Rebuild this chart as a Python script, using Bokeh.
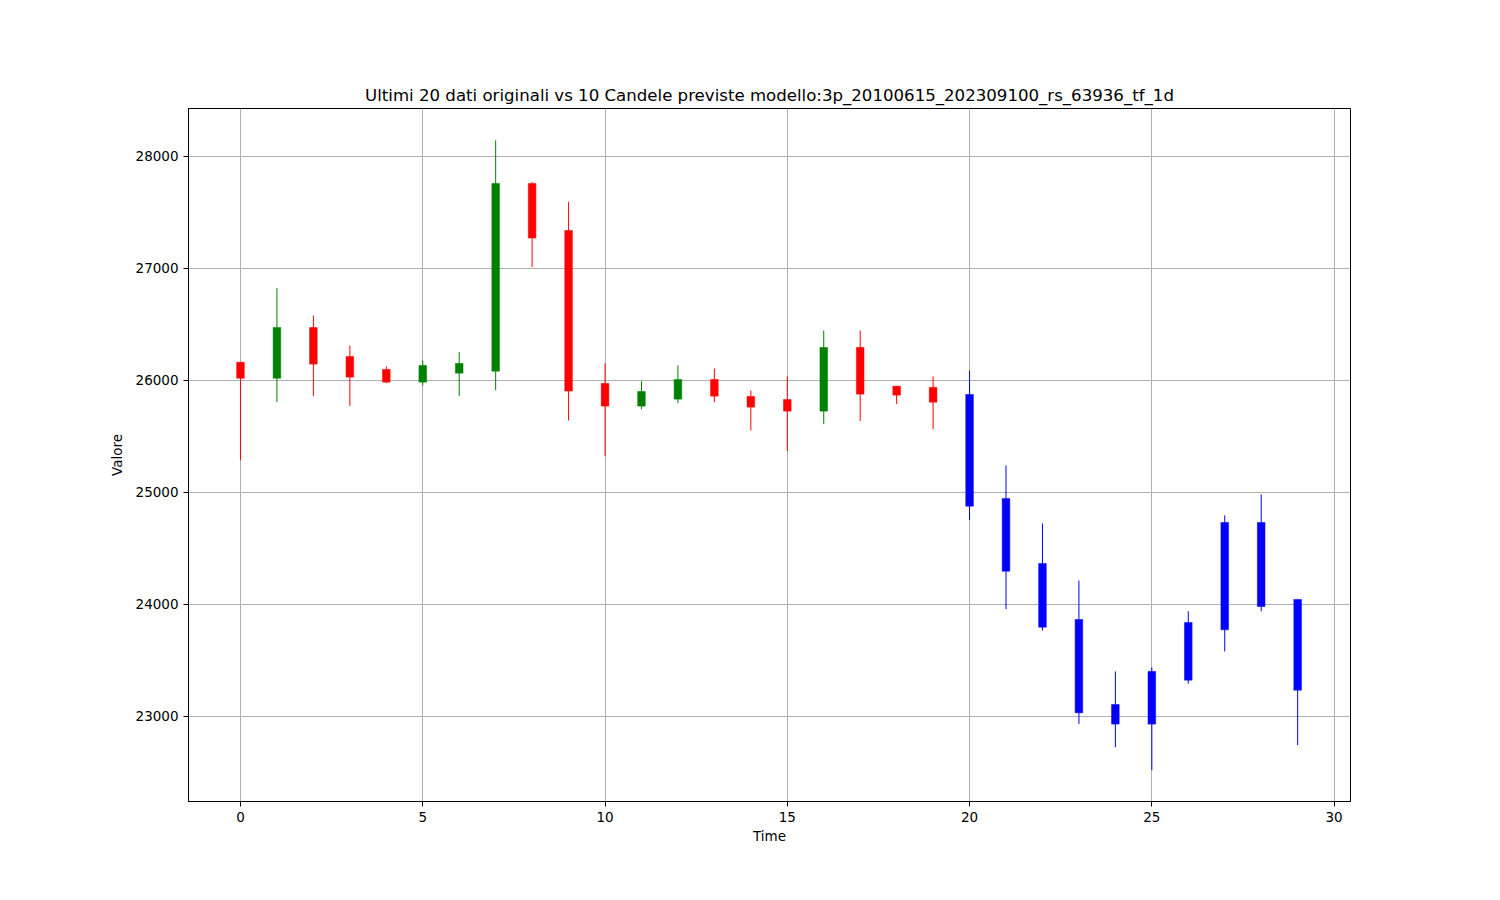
from bokeh.plotting import figure
from bokeh.models import Range1d, FixedTicker, ColumnDataSource
from bokeh.embed import file_html
from bokeh.resources import INLINE

# Original 20 candles (index 0-19), predicted 10 candles (20-29)
time_idx = list(range(30))
opens  = [26163, 26020, 26473, 26214, 26098, 25985, 26065, 26083, 27759, 27339,
          25973, 25771, 25833, 26009, 25857, 25830, 25726, 26295, 25949, 25938,
          25875, 24946, 24366, 23866, 23107, 22932, 23324, 23774, 24732, 24045]
closes = [26020, 26473, 26146, 26030, 25985, 26134, 26152, 27759, 27271, 25905,
          25771, 25902, 26009, 25860, 25762, 25726, 26295, 25878, 25869, 25806,
          24878, 24297, 23797, 23033, 22932, 23402, 23839, 24732, 23982, 23235]
highs  = [26163, 26824, 26580, 26312, 26125, 26178, 26253, 28143, 27771, 27592,
          26152, 25994, 26134, 26107, 25911, 26036, 26446, 26446, 25949, 26036,
          26089, 25241, 24723, 24214, 23402, 23438, 23940, 24795, 24982, 24045]
lows   = [25286, 25806, 25860, 25771, 25976, 25955, 25860, 25913, 27012, 25643,
          25324, 25744, 25797, 25806, 25554, 25369, 25610, 25637, 25789, 25565,
          24754, 23958, 23768, 22933, 22726, 22521, 23292, 23580, 23940, 22744]
n_original = 20

x_ticks = [0, 5, 10, 15, 20, 25, 30]
y_ticks = [23000, 24000, 25000, 26000, 27000, 28000]

colors = []
for i in time_idx:
    if i >= n_original:
        colors.append("blue")
    elif closes[i] >= opens[i]:
        colors.append("green")
    else:
        colors.append("red")

src = ColumnDataSource(dict(
    x=time_idx, o=opens, c=closes, h=highs, l=lows,
    top=[max(a, b) for a, b in zip(opens, closes)],
    bot=[min(a, b) for a, b in zip(opens, closes)],
    color=colors,
))

p = figure(width=1492, height=892, output_backend="svg", toolbar_location=None,
           x_range=Range1d(-1.426, 30.45), y_range=Range1d(22241, 28428),
           min_border_left=188, min_border_right=142, min_border_top=108,
           min_border_bottom=91, frame_width=1162, frame_height=693,
           title="Ultimi 20 dati originali vs 10 Candele previste modello:3p_20100615_202309100_rs_63936_tf_1d")

p.title.align = "center"
p.title.text_font = "DejaVu Sans"
p.title.text_font_size = "16.6px"
p.title.text_font_style = "normal"
p.title.text_color = "black"
p.title.standoff = 8

p.segment(x0="x", x1="x", y0="l", y1="h", source=src, line_color="color", line_width=1)
p.vbar(x="x", width=0.21, top="top", bottom="bot", source=src,
       fill_color="color", line_color="color", line_width=0.5)

p.outline_line_color = "black"
p.outline_line_width = 1
p.outline_line_alpha = 1

for ax in (p.xaxis[0], p.yaxis[0]):
    ax.axis_line_color = "black"
    ax.major_tick_line_color = "black"
    ax.major_tick_out = 5
    ax.major_tick_in = 0
    ax.minor_tick_line_color = None
    ax.major_label_text_font = "DejaVu Sans"
    ax.major_label_text_font_size = "13.5px"
    ax.major_label_text_color = "black"
    ax.axis_label_text_font = "DejaVu Sans"
    ax.axis_label_text_font_size = "13.5px"
    ax.axis_label_text_font_style = "normal"
    ax.axis_label_text_color = "black"

p.xaxis.ticker = FixedTicker(ticks=x_ticks)
p.yaxis.ticker = FixedTicker(ticks=y_ticks)
p.xaxis.axis_label = "Time"
p.yaxis.axis_label = "Valore"
p.xaxis.major_label_standoff = 5
p.yaxis.major_label_standoff = 5
p.xaxis.axis_label_standoff = 3
p.yaxis.axis_label_standoff = 8

p.xgrid.ticker = FixedTicker(ticks=x_ticks)
p.ygrid.ticker = FixedTicker(ticks=y_ticks)
p.grid.grid_line_color = "#b0b0b0"
p.grid.grid_line_width = 1

open("out.html", "w").write(file_html(p, INLINE))
